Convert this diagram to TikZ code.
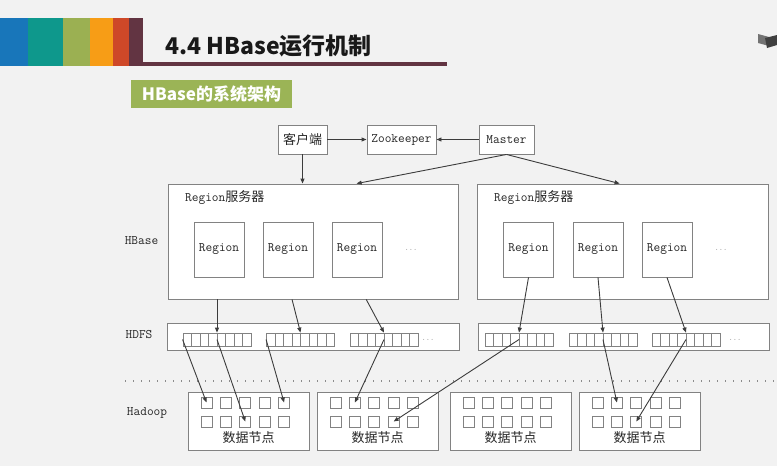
\documentclass[tikz,border=0pt]{standalone}
\usepackage{fontspec}
\newfontfamily\zhfont{Noto Sans CJK SC}
\usetikzlibrary{arrows.meta,calc}
\definecolor{bggray}{RGB}{242,242,242}
\definecolor{barblue}{RGB}{24,118,186}
\definecolor{barteal}{RGB}{14,152,140}
\definecolor{barolive}{RGB}{155,176,82}
\definecolor{barorange}{RGB}{247,157,22}
\definecolor{barred}{RGB}{206,72,40}
\definecolor{barmaroon}{RGB}{98,52,66}
\definecolor{subgreen}{RGB}{155,180,86}
\definecolor{edgegray}{RGB}{130,130,130}
\definecolor{wiregray}{RGB}{60,60,60}
\newcommand{\zh}[1]{{\zhfont #1}}
\tikzset{
  box/.style={draw=edgegray, fill=white, line width=0.9pt, inner sep=0pt},
  lbl/.style={font=\fontsize{13}{13}\selectfont\ttfamily, inner sep=0pt, text=black!85},
  more/.style={font=\fontsize{8}{8}\selectfont\ttfamily, inner sep=0pt, text=black!35},
  cell/.style={draw=edgegray, fill=white, line width=0.8pt, minimum size=11pt, inner sep=0pt},
  strip/.style={box, line width=0.8pt, minimum width=68pt, minimum height=13pt,
    path picture={\foreach \k in {1,...,7}
      \draw[edgegray, line width=0.8pt] ([xshift=\k*8.5pt]path picture bounding box.south west)
        -- ([xshift=\k*8.5pt]path picture bounding box.north west);}},
  wire/.style={draw=wiregray, line width=0.9pt, -{Triangle[length=5pt,width=4pt]}},
}
\begin{document}
\begin{tikzpicture}[x=1pt,y=-1pt]
\fill[bggray] (0,0) rectangle (777,466);
\useasboundingbox (0,0) rectangle (777,466);
\fill[barblue] (0,18) rectangle (28,66);
\fill[barteal] (28,18) rectangle (63,66);
\fill[barolive] (63,18) rectangle (90,66);
\fill[barorange] (90,18) rectangle (113,66);
\fill[barred] (113,18) rectangle (129,66);
\fill[barmaroon] (129,18) rectangle (143,66);
\fill[barmaroon] (143,62) rectangle (447,66);
\node[anchor=base west, inner sep=0pt, font=\zhfont\bfseries\fontsize{23}{23}\selectfont, text=black!90] (title) at (165,54) {4.4 HBase运行机制};
\node[fill=subgreen, minimum width=161pt, minimum height=28pt, inner sep=0pt, text=white, font=\zhfont\bfseries\fontsize{17}{17}\selectfont] (sub) at (211.5,94) {HBase的系统架构};
\fill[black!55] (758,34) -- (769,37) -- (769,46) -- (758,43) -- cycle;
\fill[black!75] (765,38) -- (777,35) -- (777,45) -- (767,48) -- cycle;

\node[box, lbl, minimum width=49pt, minimum height=29pt] (client) at (302.5,139.5) {\zh{客户端}};
\node[box, lbl, minimum width=69pt, minimum height=29pt] (zk) at (401.5,139.5) {Zookeeper};
\node[box, lbl, minimum width=55pt, minimum height=29pt] (master) at (506.5,139.5) {Master};

\node[lbl] (hbase) at (141.5,241) {HBase};
\node[lbl] (hdfs) at (139,335) {HDFS};
\node[lbl] (hadoop) at (147,413) {Hadoop};

\node[box, minimum width=290pt, minimum height=115pt] (srv1) at (313,241.5) {};
\node[box, minimum width=291pt, minimum height=115pt] (srv2) at (622.5,241.5) {};
\node[lbl, anchor=west] (srv1t) at (185,198) {Region\zh{服务器}};
\node[lbl, anchor=west] (srv2t) at (494,198) {Region\zh{服务器}};
\node[box, lbl, minimum width=50pt, minimum height=55pt] (r1) at (219,249.5) {Region};
\node[box, lbl, minimum width=50pt, minimum height=55pt] (r2) at (288,249.5) {Region};
\node[box, lbl, minimum width=50pt, minimum height=55pt] (r3) at (357,249.5) {Region};
\node[box, lbl, minimum width=50pt, minimum height=55pt] (r4) at (528.5,249.5) {Region};
\node[box, lbl, minimum width=50pt, minimum height=55pt] (r5) at (598,249.5) {Region};
\node[box, lbl, minimum width=50pt, minimum height=55pt] (r6) at (667,249.5) {Region};
\node[more] (m1) at (411,250) {...};
\node[more] (m2) at (721,250) {...};

\node[box, minimum width=292pt, minimum height=27pt] (fs1) at (313,336.5) {};
\node[box, minimum width=291pt, minimum height=27pt] (fs2) at (623.5,336.5) {};
\node[strip] (s1) at (217,339.5) {};
\node[strip] (s2) at (300.5,339.5) {};
\node[strip] (s3) at (384,339.5) {};
\node[strip] (s4) at (519,339.5) {};
\node[strip] (s5) at (603,339.5) {};
\node[strip] (s6) at (686,339.5) {};
\node[more] (m3) at (428,340) {...};
\node[more] (m4) at (735,340) {...};

\draw[black!45, line width=1.4pt, dash pattern=on 1.4pt off 6.6pt] (125,381) -- (777,381);

\foreach \b/\bx in {1/188,2/317,3/450,4/579} {
  \node[box, minimum width=121pt, minimum height=58pt] (d\b) at (\bx+60.5,421) {};
  \foreach \c in {1,...,5}
    \foreach \r/\ry in {1/402.5,2/421.5}
      \node[cell] (d\b-\r-\c) at ({\bx+18.5+(\c-1)*19.4},\ry) {};
  \node[lbl] (d\b-t) at (\bx+60.5,438) {\zh{数据节点}};
}

\draw[wire] (client.south) -- (client.south |- srv1.north);
\draw[wire] (client.east) -- (zk.west);
\draw[wire] (master.west) -- (zk.east);
\draw[wire] (master.south) -- ($(srv1.north west)!0.65!(srv1.north east)$);
\draw[wire] (master.south) -- ($(srv2.north west)!0.49!(srv2.north east)$);

\draw[wire] (s1.north |- srv1.south) -- (s1.north);
\draw[wire] ($(srv1.south west)!0.428!(srv1.south east)$) -- (s2.north);
\draw[wire] ($(srv1.south west)!0.683!(srv1.south east)$) -- (s3.north);
\draw[wire] (r4.south) -- (s4.north);
\draw[wire] (r5.south) -- (s5.north);
\draw[wire] (r6.south) -- (s6.north);

\draw[wire] (s1.west) -- (d1-1-1.center);
\draw[wire] (s1.center) -- (d1-2-3.center);
\draw[wire] (s2.west) -- (d1-1-5.center);
\draw[wire] (s3.center) -- (d2-1-2.center);
\draw[wire] (s4.center) -- (d2-2-4.center);
\draw[wire] (s5.center) -- (d4-1-2.center);
\draw[wire] (s6.center) -- (d4-2-3.center);
\end{tikzpicture}
\end{document}
